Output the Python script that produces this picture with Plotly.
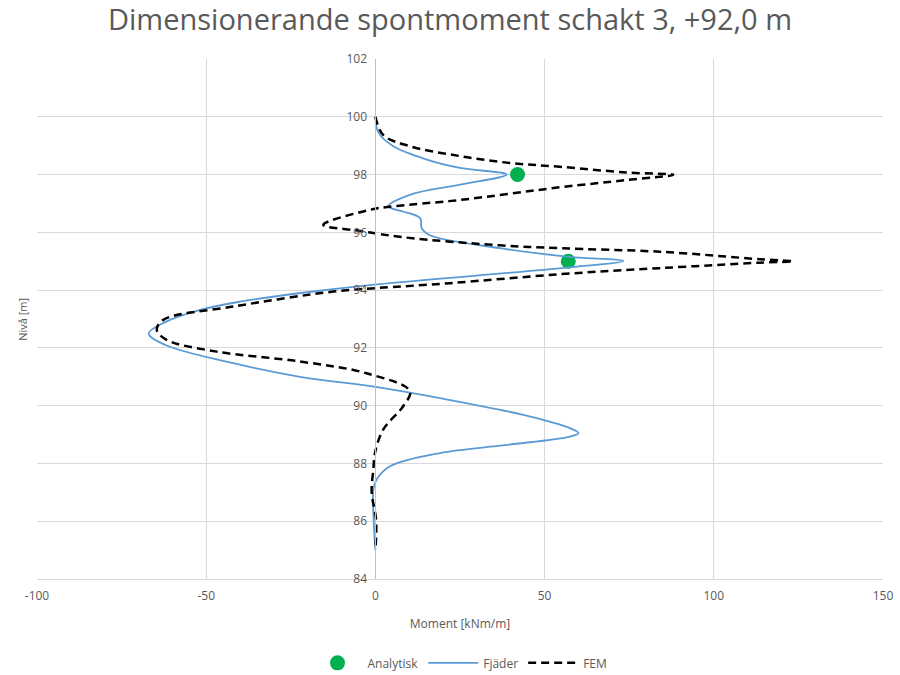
import plotly.graph_objects as go

# Analytical check points
analytisk_moment = [42, 57]
analytisk_level = [98.0, 95.0]

# Spring model (Fjäder)
fjader_moment = [0, 0.9, 5.3, 15.2, 25, 38.8, 25, 10.2, 3.8, 8.2, 13.2, 13.7, 16.1, 36.8, 56.5, 73.3,
                 56.5, 0.4, -22, -40, -52, -62, -67, -62, -42, -22.3, 0, 19.1, 43.7, 57.5, 60,
                 57.5, 38.8, 19.1, 4.3, 0.4, -0.6, -0.5, 0]
fjader_level = [100.0, 99.45, 98.98, 98.52, 98.23, 98.0, 97.65, 97.3, 96.9, 96.72, 96.49, 96.14, 95.9, 95.45, 95.16, 95.01,
                94.78, 94.2, 93.9, 93.6, 93.31, 92.9, 92.5, 92.1, 91.47, 91.0, 90.65, 90.26, 89.68, 89.22, 89.05,
                88.93, 88.64, 88.36, 87.9, 87.45, 87.1, 86.0, 85.0]

# Finite element model (FEM)
fem_moment = [0, 2.3, 10.2, 25, 39.8, 54.5, 74.3, 88, 74.3, 54.5, 25, 5.3, -1.6, -15.4, -4.5, 8.2, 36.8, 54.5, 84, 113.6, 123.4,
              113.6, 84, 54.5, 22, 0.4, -12.4, -42, -62.7, -64.6, -61.7, -46.9, -22.3, -2.6, 10.2,
              8.2, 2.3, -0.1, -0.6, -1.1, 0.2, 0]
fem_level = [100.0, 99.37, 98.98, 98.64, 98.4, 98.27, 98.07, 97.99, 97.81, 97.56, 97.12, 96.9, 96.78, 96.26, 96.05, 95.83, 95.55, 95.45, 95.33, 95.07, 95.0,
             94.95, 94.76, 94.55, 94.24, 94.07, 93.95, 93.43, 92.97, 92.62, 92.28, 91.87, 91.53, 91.12, 90.5,
             89.98, 89.17, 88.37, 87.8, 87.0, 86.05, 85.0]

x_ticks = [-100, -50, 0, 50, 100, 150]
x_tick_text = ["-100", "-50", "0", "50", "100", "150"]
y_ticks = [84, 86, 88, 90, 92, 94, 96, 98, 100, 102]

GRAY_TXT = "#595959"
GRID = "#d9d9d9"
FONT = "Open Sans"

fig = go.Figure()
fig.add_trace(go.Scatter(
    x=analytisk_moment, y=analytisk_level, mode="markers", name="Analytisk",
    marker=dict(color="#00b050", size=15),
))
fig.add_trace(go.Scatter(
    x=fjader_moment, y=fjader_level, mode="lines", name="Fjäder",
    line=dict(color="#5b9bd5", width=1.8, shape="spline", smoothing=1.0),
))
fig.add_trace(go.Scatter(
    x=fem_moment, y=fem_level, mode="lines", name="FEM",
    line=dict(color="black", width=2.5, dash="8px,5px", shape="spline", smoothing=1.0),
))

fig.update_layout(
    width=900, height=675,
    margin=dict(l=37, r=17, t=59, b=96, autoexpand=False),
    paper_bgcolor="white", plot_bgcolor="white",
    font=dict(family=FONT, color=GRAY_TXT, size=12),
    title=dict(
        text="Dimensionerande spontmoment schakt 3, +92,0 m",
        x=0.5, xanchor="center", y=0.97, yanchor="middle",
        font=dict(family=FONT, size=29, color=GRAY_TXT),
    ),
    showlegend=True,
    legend=dict(
        orientation="h", x=0.5, xanchor="center",
        yref="container", y=0.018, yanchor="middle",
        font=dict(family=FONT, size=12, color=GRAY_TXT), itemwidth=50,
        traceorder="normal",
    ),
    xaxis=dict(
        range=[-100, 150], tickvals=x_ticks, ticktext=x_tick_text,
        showgrid=True, gridcolor=GRID, gridwidth=1, automargin=False,
        zeroline=False, showline=True, linecolor=GRID, mirror=False,
        tickfont=dict(size=12, color=GRAY_TXT),
        title=dict(text="Moment [kNm/m]", font=dict(size=12, color=GRAY_TXT), standoff=16),
        ticks="outside", ticklen=6, tickcolor="rgba(0,0,0,0)",
    ),
    yaxis=dict(
        range=[84, 102], tickvals=y_ticks, showgrid=True, gridcolor=GRID, gridwidth=1,
        zeroline=False, showline=True, linecolor="#bfbfbf", automargin=False,
        anchor="free", position=0.4,
        tickfont=dict(size=12, color=GRAY_TXT),
        ticks="outside", ticklen=6, tickcolor="rgba(0,0,0,0)",
    ),
    annotations=[dict(
        text="Nivå [m]", textangle=-90, xref="paper", yref="paper",
        x=-0.018, y=0.5, xanchor="center", yanchor="middle", showarrow=False,
        font=dict(family=FONT, size=11, color=GRAY_TXT),
    )],
)

fig.write_html("out.html")
